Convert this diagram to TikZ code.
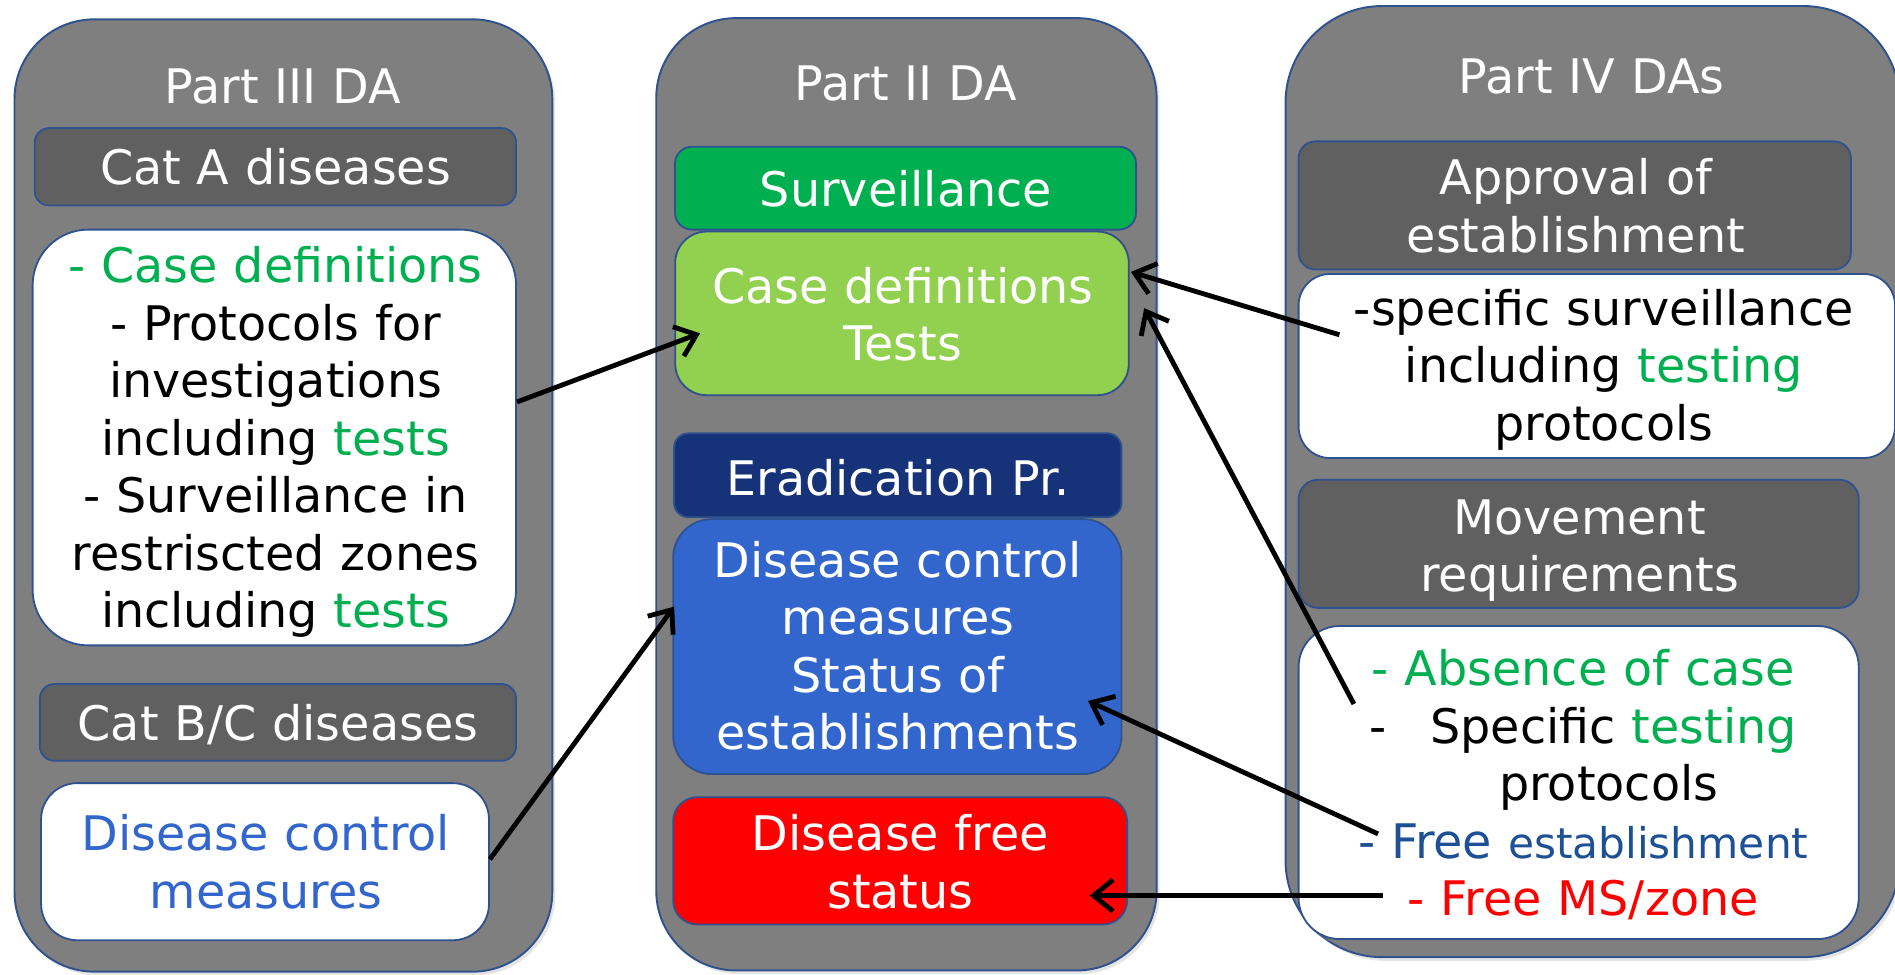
\documentclass[tikz,border=0pt]{standalone}
\usepackage{fontspec}
\setmainfont{DejaVu Sans}
\usetikzlibrary{arrows.meta,calc,fit,shadows}
\definecolor{panelgray}{HTML}{7F7F7F}
\definecolor{headgray}{HTML}{606060}
\definecolor{edgeblue}{HTML}{2F528F}
\definecolor{txtgreen}{HTML}{00B050}
\definecolor{boxgreen}{HTML}{00B050}
\definecolor{lightgreen}{HTML}{92D050}
\definecolor{navy}{HTML}{163278}
\definecolor{midblue}{HTML}{3366CC}
\definecolor{estblue}{HTML}{1E5096}
\definecolor{boxred}{HTML}{FF0000}
\begin{document}
\begin{tikzpicture}[x=0.5pt,y=-0.5pt,
  panel/.style={draw=edgeblue, line width=0.8pt, fill=panelgray, inner sep=0pt, rounded corners=#1,
     drop shadow={shadow xshift=1.2pt, shadow yshift=-1.5pt, opacity=0.2}},
  card/.style={draw=edgeblue, line width=0.75pt, inner sep=0pt, rounded corners=#1,
     drop shadow={shadow xshift=1.5pt, shadow yshift=-2pt, opacity=0.35}},
  txt/.style={text width=240pt, align=center, anchor=base, inner sep=0pt,
     font=\fontsize{19.7}{23.8}\selectfont},
  ttl/.style={txt, text=white},
  arr/.style={line width=2pt, -{Straight Barb[length=8pt,width=13pt]}}
]
\fill[white] (0,0) rectangle (1568,806);
\useasboundingbox (0,0) rectangle (1568,806);
% panels
\node[panel=33pt, fit={(12,16) (457,804)}] (p3) {};
\node[panel=33pt, fit={(543,15) (957,803)}] (p2) {};
\node[panel=40pt, fit={(1063.7,5) (1572,792)}] (p4) {};
\node[ttl] (t3) at (234,85.6) {Part III DA};
\node[ttl] (t2) at (749.5,83) {Part II DA};
\node[ttl] (t4) at (1317,77) {Part IV DAs};
% left column
\node[card=6pt, fill=headgray, fit={(28.7,106) (427,170)}] (cA) {};
\node[ttl] (tcA) at (228,153) {Cat A diseases};
\node[card=23pt, fill=white, fit={(27,190) (427,534)}] (wA) {};
\node[txt] (twA) at (228,234) {\textcolor{txtgreen}{- Case definitions}\\- Protocols for\\investigations\\including \textcolor{txtgreen}{tests}\\- Surveillance in\\restriscted zones\\including \textcolor{txtgreen}{tests}};
\node[card=6pt, fill=headgray, fit={(33,566) (427,629.5)}] (cBC) {};
\node[ttl] (tcBC) at (230,613) {Cat B/C diseases};
\node[card=15pt, fill=white, fit={(34,648) (404.6,778)}] (wBC) {};
\node[txt, text=midblue] (twBC) at (220,704) {Disease control\\measures};
% middle column
\node[card=7pt, fill=boxgreen, fit={(558.5,121.4) (940,190)}] (surv) {};
\node[ttl] (tsurv) at (749.5,171) {Surveillance};
\node[card=13pt, fill=lightgreen, fit={(558.7,191.6) (934,327)}] (cd) {};
\node[ttl] (tcd) at (747,251) {Case definitions\\Tests};
\node[card=6pt, fill=navy, fit={(557.7,358.5) (928,428)}] (erad) {};
\node[ttl] (terad) at (743,410) {Eradication Pr.};
\node[card=16pt, fill=midblue, fit={(557,429.5) (928,640.5)}] (dcm) {};
\node[ttl] (tdcm) at (743,477.6) {Disease control\\measures\\Status of\\establishments};
\node[card=10pt, fill=boxred, fit={(557,659.6) (932.6,765)}] (dfs) {};
\node[ttl] (tdfs) at (745,704) {Disease free\\status};
% right column
\node[card=7pt, fill=headgray, fit={(1074.5,117) (1531.5,223)}] (app) {};
\node[ttl] (tapp) at (1304,161) {Approval of\\establishment};
\node[card=13pt, fill=white, fit={(1074.5,226.7) (1568,379)}] (wS) {};
\node[txt] (twS) at (1327,269) {-specific surveillance\\including \textcolor{txtgreen}{testing}\\protocols};
\node[card=8pt, fill=headgray, fit={(1074.5,397) (1538,503)}] (mov) {};
\node[ttl] (tmov) at (1307,442) {Movement\\requirements};
\node[card=17pt, fill=white, fit={(1074.5,518) (1538,777)}] (wM) {};
\node[txt] (twM) at (1310,567.5) {\textcolor{txtgreen}{- Absence of case}\\-\hspace{18pt}Specific \textcolor{txtgreen}{testing}\\\hspace*{21pt}protocols\\\textcolor{estblue}{- Free {\fontsize{17.5}{23.8}\selectfont establishment}}\\\textcolor{boxred}{- Free MS/zone}};
% connectors
\draw[arr] ($(wA.east)+(0,-29.4)$) -- ($(cd.west)+(21.3,16.5)$);
\draw[arr] ($(wBC.east)+(0,-2)$) -- ($(dcm.west)+(1.5,-33)$);
\draw[arr] ($(wS.west)+(34.5,-25.85)$) -- ($(cd.east)+(1,-34.3)$);
\draw[arr] ($(wM.west)+(46.5,-65)$) -- ($(cd.east)+(12,-4.3)$);
\draw[arr] ($(wM.west)+(66.5,42.5)$) -- ($(dcm.east)+(-28.5,45)$);
\draw[arr] ($(wM.west)+(70.5,93.5)$) -- ($(dfs.east)+(-31.6,28.7)$);
\end{tikzpicture}
\end{document}
